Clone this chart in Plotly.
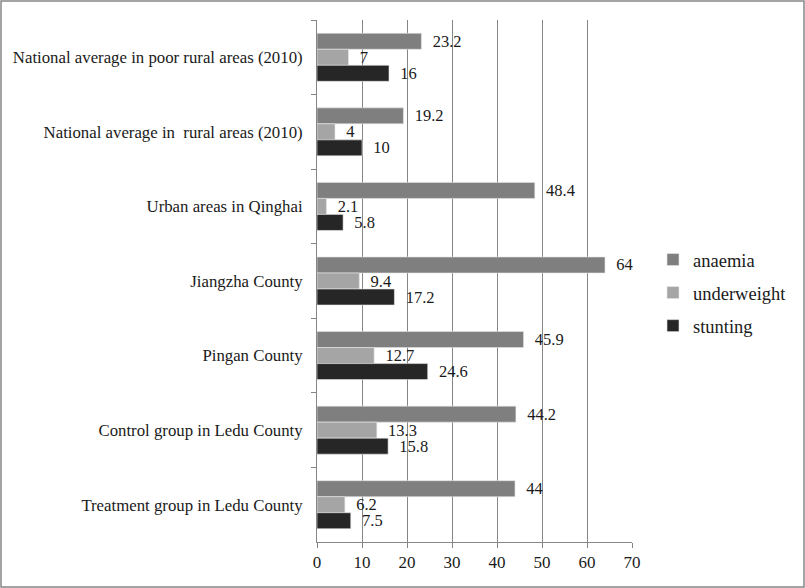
import plotly.graph_objects as go

categories = [
    "National average in poor rural areas (2010)",
    "National average in  rural areas (2010)",
    "Urban areas in Qinghai",
    "Jiangzha County",
    "Pingan County",
    "Control group in Ledu County",
    "Treatment group in Ledu County",
]
anaemia = [23.2, 19.2, 48.4, 64, 45.9, 44.2, 44]
underweight = [7, 4, 2.1, 9.4, 12.7, 13.3, 6.2]
stunting = [16, 10, 5.8, 17.2, 24.6, 15.8, 7.5]
x_ticks = [0, 10, 20, 30, 40, 50, 60, 70]

FONT = "Liberation Serif"

fig = go.Figure()
for name, vals, col in [("anaemia", anaemia, "#7f7f7f"),
                        ("underweight", underweight, "#a5a5a5"),
                        ("stunting", stunting, "#262626")]:
    fig.add_trace(go.Bar(
        y=categories, x=vals, name=name, orientation="h", legendgroup=name,
        marker=dict(color=col, line=dict(color="#e6e6e6", width=0.6)),
        text=[str(v) for v in vals], texttemplate="  %{text}",
        textposition="outside", cliponaxis=False, constraintext="none",
        textfont=dict(family=FONT, size=16.5, color="#1a1a1a"),
    ))

W, H = 805, 588
ml, mr, mt, mb = 317, 173, 20, 46
pw, ph = W - ml - mr, H - mt - mb

fig.update_layout(
    width=W, height=H, barmode="group", bargap=0.356, bargroupgap=0,
    margin=dict(l=ml, r=mr, t=mt, b=mb, pad=0),
    paper_bgcolor="white", plot_bgcolor="white",
    font=dict(family=FONT, size=16, color="#1a1a1a"),
    legend=dict(traceorder="grouped", x=(653 - ml) / pw, xanchor="left",
                y=(H - mb - 293) / ph, yanchor="middle",
                font=dict(family=FONT, size=18.5), itemwidth=30,
                tracegroupgap=6, bgcolor="rgba(0,0,0,0)"),
    showlegend=True,
    xaxis=dict(range=[0, 70], tickvals=x_ticks, showgrid=True,
               gridcolor="#868686", gridwidth=1, zeroline=False,
               showline=True, linecolor="#868686", ticks="outside",
               ticklen=5, tickcolor="#868686",
               tickfont=dict(family=FONT, size=17)),
    yaxis=dict(categoryorder="array", categoryarray=categories,
               autorange="reversed",
               showline=True, linecolor="#868686", ticks="outside",
               tickson="boundaries", ticklen=5, tickcolor="#868686",
               showgrid=False, tickfont=dict(family=FONT, size=16.8),
               ticklabelstandoff=10),
)
fig.add_shape(type="rect", xref="paper", yref="paper",
              x0=-(ml - 1) / pw, x1=1 + (mr - 1) / pw,
              y0=-(mb - 1) / ph, y1=1 + (mt - 1) / ph,
              line=dict(color="#868686", width=1.5))
fig.write_html("out.html", config={"displayModeBar": False},
               post_script="document.body.style.margin='0';"
                           "document.body.style.padding='0';"
                           "document.documentElement.style.overflow='hidden';")
